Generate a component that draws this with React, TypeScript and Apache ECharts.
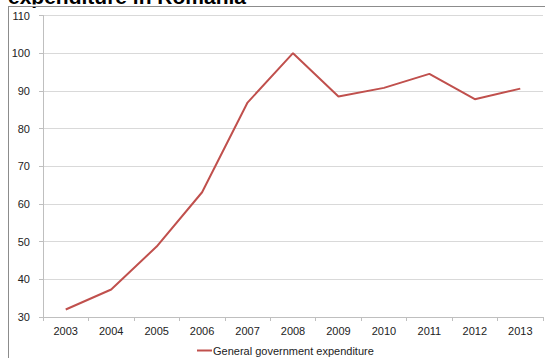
import React, { useEffect, useRef } from "react";
import * as echarts from "echarts";

const years = ["2003", "2004", "2005", "2006", "2007", "2008", "2009", "2010", "2011", "2012", "2013"];
const expenditure = [32.0, 37.3, 48.7, 63.1, 86.9, 100.0, 88.5, 90.8, 94.5, 87.8, 90.6];
const seriesName = "General government expenditure";
const titleText = "expenditure in Romania";

const FONT = "'Liberation Sans', Arial, sans-serif";

export default function App() {
  const ref = useRef<HTMLDivElement>(null);
  useEffect(() => {
    if (!ref.current) return;
    const chart = echarts.init(ref.current, null, { renderer: "svg" });
    chart.setOption({
      animation: false,
      backgroundColor: "#ffffff",
      textStyle: { fontFamily: FONT },
      grid: { left: 43, right: 2, top: 15.5, bottom: 41, containLabel: false },
      xAxis: {
        type: "category",
        data: years,
        boundaryGap: true,
        axisLine: { show: true, lineStyle: { color: "#bfbfbf", width: 1 } },
        axisTick: { show: true, length: 4, interval: 0, lineStyle: { color: "#bfbfbf" } },
        axisLabel: { color: "#222", fontSize: 11, margin: 8, fontFamily: FONT, interval: 0 },
        splitLine: { show: false },
      },
      yAxis: {
        type: "value",
        min: 30,
        max: 110,
        interval: 10,
        axisLine: { show: true, lineStyle: { color: "#bfbfbf", width: 1 } },
        axisTick: { show: true, length: 4, lineStyle: { color: "#bfbfbf" } },
        axisLabel: { color: "#222", fontSize: 11, margin: 13, fontFamily: FONT },
        splitLine: { show: true, lineStyle: { color: "#d9d9d9", width: 1 } },
      },
      legend: {
        show: true,
        left: 192,
        top: 340,
        itemWidth: 15,
        itemHeight: 2,
        icon: "rect",
        textStyle: { color: "#222", fontSize: 11, fontFamily: FONT, padding: [0, 0, 0, -4] },
        data: [seriesName],
      },
      series: [
        {
          name: seriesName,
          type: "line",
          data: expenditure,
          symbol: "none",
          lineStyle: { color: "#c0504d", width: 2 },
          itemStyle: { color: "#c0504d" },
        },
      ],
      graphic: [
        {
          type: "text",
          x: 8,
          y: -3.5,
          z: 10,
          style: {
            text: titleText,
            font: "bold 21px " + FONT,
            fill: "#000",
            align: "left",
            verticalAlign: "middle",
          },
        },
        {
          type: "rect",
          z: 11,
          shape: { x: 0, y: 4.5, width: 545, height: 1.5 },
          style: { fill: "#ffffff" },
        },
        {
          type: "line",
          z: 12,
          shape: { x1: 8, y1: 6.5, x2: 545, y2: 6.5 },
          style: { stroke: "#8c8c8c", lineWidth: 1 },
        },
        {
          type: "line",
          z: 12,
          shape: { x1: 8.5, y1: 6, x2: 8.5, y2: 358 },
          style: { stroke: "#8c8c8c", lineWidth: 1 },
        },
      ],
    });
    return () => chart.dispose();
  }, []);
  return (
    <div
      ref={ref}
      style={{ position: "fixed", left: 0, top: 0, width: 545, height: 358 }}
    />
  );
}
